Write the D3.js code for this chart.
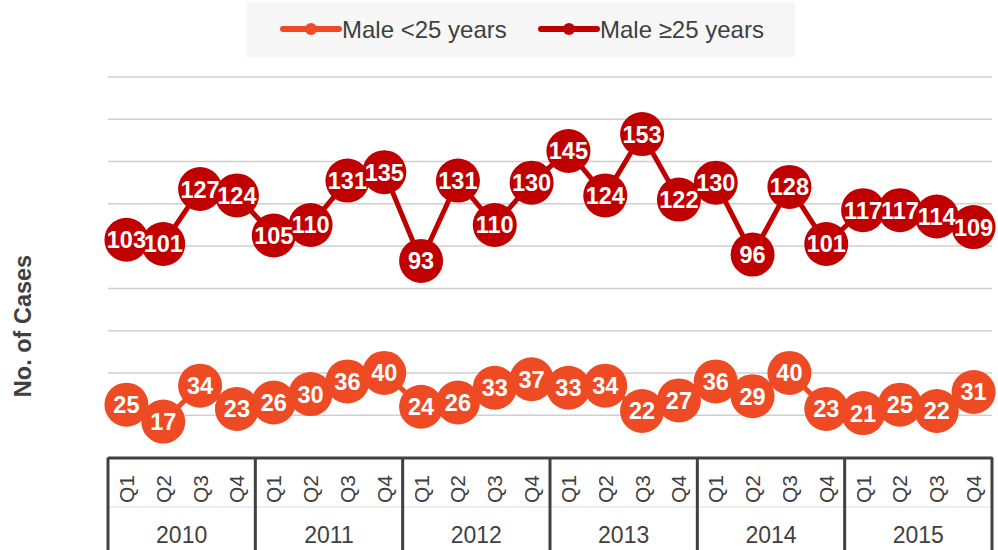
<!DOCTYPE html>
<html><head><meta charset="utf-8">
<script src="https://cdn.jsdelivr.net/npm/d3@7"></script>
<style>body{margin:0;background:#fff;}svg{display:block;font-family:"Liberation Sans",Arial,sans-serif;}</style>
</head><body><div id="chart"></div>
<script>
const years = ["2010","2011","2012","2013","2014","2015"];
const quarters = ["Q1","Q2","Q3","Q4"];
const seriesNames = ["Male <25 years", "Male \u226525 years"];
const seriesColors = ["#ee4a24", "#c00000"];
const maleUnder25 = [25,17,34,23, 26,30,36,40, 24,26,33,37, 33,34,22,27, 36,29,40,23, 21,25,22,31];
const male25Plus = [103,101,127,124, 105,110,131,135, 93,131,110,130, 145,124,153,122, 130,96,128,101, 117,117,114,109];
const yTicks = [0,20,40,60,80,100,120,140,160,180];

const W = 998, H = 550;
const m = {left:108, right:6, top:77, bottom:92.5};
const svg = d3.select("#chart").append("svg").attr("width", W).attr("height", H);

const cats = [];
years.forEach(y => quarters.forEach(q => cats.push(y + "-" + q)));
const x = d3.scaleBand().domain(cats).range([m.left, W - m.right]);
const y = d3.scaleLinear().domain([0, 180]).range([H - m.bottom, m.top]);

// gridlines
svg.append("g").selectAll("line").data(yTicks.slice(1)).join("line")
  .attr("x1", m.left).attr("x2", W - m.right)
  .attr("y1", d => y(d)).attr("y2", d => y(d))
  .attr("stroke", "#cfcfcf").attr("stroke-width", 1.5);

// y axis title
svg.append("text").attr("transform", `translate(31,326) rotate(-90)`)
  .attr("text-anchor", "middle").attr("font-weight", "bold").attr("font-size", 23.5)
  .attr("fill", "#404040").text("No. of Cases");

// x axis (hierarchical)
const axisY = y(0);
const xa = svg.append("g");
xa.append("line").attr("x1", m.left).attr("x2", W - m.right + 0.5)
  .attr("y1", axisY + 0.5).attr("y2", axisY + 0.5)
  .attr("stroke", "#404040").attr("stroke-width", 3);
xa.append("line").attr("x1", m.left).attr("x2", W - m.right)
  .attr("y1", 507).attr("y2", 507).attr("stroke", "#dddddd").attr("stroke-width", 1);
const bounds = years.map(yr => x(yr + "-Q1")).concat([x(years[years.length-1] + "-Q4") + x.bandwidth()]);
xa.selectAll("line.sep").data(bounds).join("line").attr("class", "sep")
  .attr("x1", d => d).attr("x2", d => d).attr("y1", axisY).attr("y2", H)
  .attr("stroke", "#404040").attr("stroke-width", 3);
xa.selectAll("text.q").data(cats).join("text").attr("class", "q")
  .attr("transform", d => `translate(${x(d) + x.bandwidth()/2 + 7.5},489) rotate(-90)`)
  .attr("text-anchor", "middle").attr("font-size", 21).attr("fill", "#404040")
  .text(d => d.split("-")[1]);
xa.selectAll("text.yr").data(years).join("text").attr("class", "yr")
  .attr("x", d => (x(d + "-Q1") + x(d + "-Q4") + x.bandwidth())/2).attr("y", 543)
  .attr("text-anchor", "middle").attr("font-size", 23).attr("fill", "#404040")
  .text(d => d);

// series
const allSeries = [maleUnder25, male25Plus];
const line = d3.line().x((d, i) => x(cats[i]) + x.bandwidth()/2).y(d => y(d));
allSeries.forEach((vals, si) => {
  const g = svg.append("g");
  g.append("path").attr("d", line(vals)).attr("fill", "none")
    .attr("stroke", seriesColors[si]).attr("stroke-width", 5).attr("stroke-linejoin", "round");
  g.selectAll("circle").data(vals).join("circle")
    .attr("cx", (d, i) => x(cats[i]) + x.bandwidth()/2).attr("cy", d => y(d))
    .attr("r", 22).attr("fill", seriesColors[si]);
  g.selectAll("text").data(vals).join("text")
    .attr("x", (d, i) => x(cats[i]) + x.bandwidth()/2).attr("y", d => y(d) + 8.5)
    .attr("text-anchor", "middle").attr("font-weight", "bold").attr("font-size", 23.5)
    .attr("fill", "#fff").text(d => d);
});

// legend
const lg = svg.append("g");
lg.append("rect").attr("x", 246).attr("y", 2).attr("width", 549).attr("height", 55).attr("fill", "#f7f7f7");
const lx = [283, 541];
seriesNames.forEach((n, i) => {
  lg.append("line").attr("x1", lx[i]).attr("x2", lx[i] + 56).attr("y1", 29).attr("y2", 29)
    .attr("stroke", seriesColors[i]).attr("stroke-width", 6).attr("stroke-linecap", "round");
  lg.append("circle").attr("cx", lx[i] + 28).attr("cy", 29).attr("r", 6).attr("fill", seriesColors[i]);
  lg.append("text").attr("x", lx[i] + 59).attr("y", 37.5).attr("font-size", 24).attr("fill", "#404040").text(n);
});
</script></body></html>
